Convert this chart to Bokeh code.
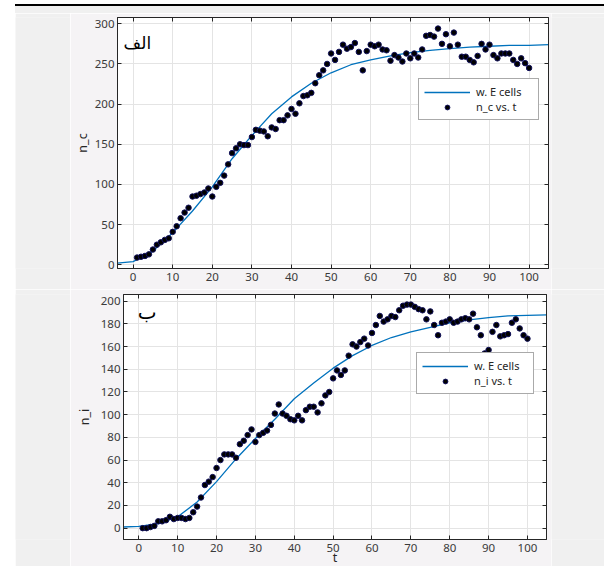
from bokeh.plotting import figure
from bokeh.models import Range1d, FixedTicker, LinearAxis, Label, Spacer, Plot, Div
from bokeh.layouts import column, row
from bokeh.embed import file_html
from bokeh.resources import INLINE

# ---------------- data ----------------
t_obs = list(range(1, 101))

n_c = [9, 10, 11, 13, 19, 25, 28, 31, 33, 41,
       48, 58, 65, 71, 85, 86, 88, 90, 95, 85,
       97, 102, 111, 125, 139, 145, 150, 149, 149, 159,
       168, 167, 166, 160, 171, 169, 180, 180, 186, 194,
       188, 201, 210, 211, 214, 226, 236, 242, 250, 263,
       255, 265, 274, 269, 271, 276, 265, 242, 266, 274,
       272, 274, 268, 267, 254, 261, 258, 253, 263, 257,
       263, 258, 268, 285, 286, 284, 294, 275, 287, 272,
       289, 274, 259, 259, 255, 252, 260, 275, 268, 274,
       261, 257, 263, 263, 263, 255, 250, 257, 251, 245]

n_i = [0, 0, 1, 2, 6, 6, 7, 10, 8, 9,
       9, 8, 9, 14, 19, 27, 38, 41, 45, 53,
       60, 65, 65, 65, 62, 74, 77, 82, 87, 76,
       82, 84, 86, 91, 101, 109, 101, 99, 96, 95,
       99, 95, 104, 107, 107, 102, 110, 117, 120, 132,
       139, 135, 139, 152, 162, 160, 164, 167, 161, 172,
       179, 187, 182, 184, 187, 186, 192, 196, 197, 197,
       195, 193, 192, 184, 191, 179, 170, 181, 182, 184,
       181, 182, 184, 185, 184, 189, 177, 170, 154, 157,
       173, 179, 169, 170, 171, 181, 184, 176, 170, 167]

t_fit = [-4, 0, 5, 10, 15, 20, 25, 30, 35, 40, 45, 50,
         55, 60, 65, 70, 75, 80, 85, 90, 95, 100, 105]
fit_c = [2, 4, 17, 40, 67, 97, 132, 161, 188, 209, 226, 239,
         249, 255, 260, 264, 267, 269, 271, 272, 273, 273, 274]
fit_i = [1, 1.5, 4, 10, 23, 41, 61, 79, 96, 114, 128, 141,
         152, 161, 168, 173, 177, 181, 183.5, 185.5, 187, 187.5, 188]

x_ticks = [0, 10, 20, 30, 40, 50, 60, 70, 80, 90, 100]
yc_ticks = [0, 50, 100, 150, 200, 250, 300]
yi_ticks = [0, 20, 40, 60, 80, 100, 120, 140, 160, 180, 200]

FONT = "Noto Sans"
AX = "#262626"
BLUE = "#0072BD"
OUTER = "#f0f0f0"
INNER = "#f5f3f5"


def block(w, h, color):
    return Plot(width=w, height=h, toolbar_location=None, output_backend="svg",
                min_border=0, outline_line_color=None,
                background_fill_color=color, border_fill_color=color)


def style_axis(ax, ticks, show_labels=True):
    ax.ticker = FixedTicker(ticks=ticks)
    ax.major_tick_in = 4
    ax.major_tick_out = 0
    ax.minor_tick_line_color = None
    ax.axis_line_color = AX
    ax.major_tick_line_color = AX
    if show_labels:
        ax.major_label_text_font = FONT
        ax.major_label_text_font_size = "11.5px"
        ax.major_label_text_color = "#3a3a3a"
        ax.major_label_standoff = 3
        ax.axis_label_text_font = FONT
        ax.axis_label_text_font_size = "12.5px"
        ax.axis_label_text_font_style = "normal"
        ax.axis_label_text_color = "#262626"
        ax.axis_label_text_line_height = 1.0
    else:
        ax.major_label_text_font_size = "0px"
        ax.major_label_standoff = 0


def make_panel(y, fit, yr, yticks, ylabel, series_label, tag, tag_x, tag_y,
               tag_size, width, height, borders, xlabel=None,
               ylabel_standoff=3, legend_loc=(0, 0), label_w=57):
    bl, br, bt, bb = borders
    p = figure(width=width, height=height,
               x_range=Range1d(-3.94, 104.9), y_range=Range1d(*yr),
               output_backend="svg", toolbar_location=None,
               min_border_left=bl, min_border_right=br,
               min_border_top=bt, min_border_bottom=bb,
               background_fill_color="white", border_fill_color=INNER)
    p.outline_line_color = AX
    p.outline_line_width = 1

    style_axis(p.xaxis[0], x_ticks)
    style_axis(p.yaxis[0], yticks)
    p.yaxis[0].axis_label = ylabel
    p.yaxis[0].axis_label_standoff = ylabel_standoff
    p.xaxis[0].major_label_standoff = 4
    if xlabel:
        p.xaxis[0].axis_label = xlabel
        p.xaxis[0].axis_label_standoff = -6

    top_ax = LinearAxis()
    style_axis(top_ax, x_ticks, show_labels=False)
    p.add_layout(top_ax, "above")
    right_ax = LinearAxis()
    style_axis(right_ax, yticks, show_labels=False)
    p.add_layout(right_ax, "right")

    p.xgrid.ticker = FixedTicker(ticks=x_ticks)
    p.ygrid.ticker = FixedTicker(ticks=yticks)
    for g in (p.xgrid[0], p.ygrid[0]):
        g.grid_line_color = "#e4e4e4"
        g.grid_line_width = 1

    p.line(t_fit, fit, line_color=BLUE, line_width=1.3, legend_label="w. E cells")
    p.scatter(t_obs, y, size=5.5, fill_color="black", line_color="#10105a",
              line_width=1, legend_label=series_label)

    lg = p.legend[0]
    lg.location = legend_loc
    lg.border_line_color = "#555555"
    lg.border_line_width = 1
    lg.background_fill_color = "white"
    lg.background_fill_alpha = 1
    lg.label_text_font = FONT
    lg.label_text_font_size = "11px"
    lg.label_text_color = "#262626"
    lg.glyph_width = 46
    lg.glyph_height = 12
    lg.label_height = 12
    lg.label_width = label_w
    lg.label_standoff = 6
    lg.padding = 5
    lg.spacing = 0
    lg.margin = 0

    p.add_layout(Label(x=tag_x, y=tag_y, text=tag,
                       text_font="DejaVu Sans", text_font_size=tag_size,
                       text_color="black", text_baseline="top",
                       text_align="left"))
    return p


# page has no body margin (Bokeh template): place in absolute pixels
p1 = make_panel(n_c, fit_c, (-4.6, 307.8), yc_ticks, "n_c", "n_c vs. t",
                "الف", -2.4, 288, "17px", 481, 276, (45, 3, 4, 21),
                ylabel_standoff=1, legend_loc=(301, 148), label_w=57)
p2 = make_panel(n_i, fit_i, (-10.0, 205.9), yi_ticks, "n_i", "n_i vs. t",
                "ب", -0.3, 201, "20px", 481, 290, (53, 5, 5, 40), xlabel="t",
                ylabel_standoff=5, legend_loc=(293, 145), label_w=54)

top_white = Spacer(width=589, height=4)
black_line = Div(text="", width=589, height=2, margin=0,
                 styles={"background-color": "black"})
gray_gap = Div(text="", width=589, height=7, margin=0,
               styles={"background-color": OUTER})
row1 = row(block(55, 276, OUTER), p1, block(53, 276, OUTER))
row2 = row(block(55, 290, OUTER), p2, block(53, 290, OUTER))
right_part = column(top_white, black_line, gray_gap, row1, row2)
page = row(Spacer(width=15, height=566), right_part)

open("out.html", "w").write(file_html(page, INLINE, title="chart"))
